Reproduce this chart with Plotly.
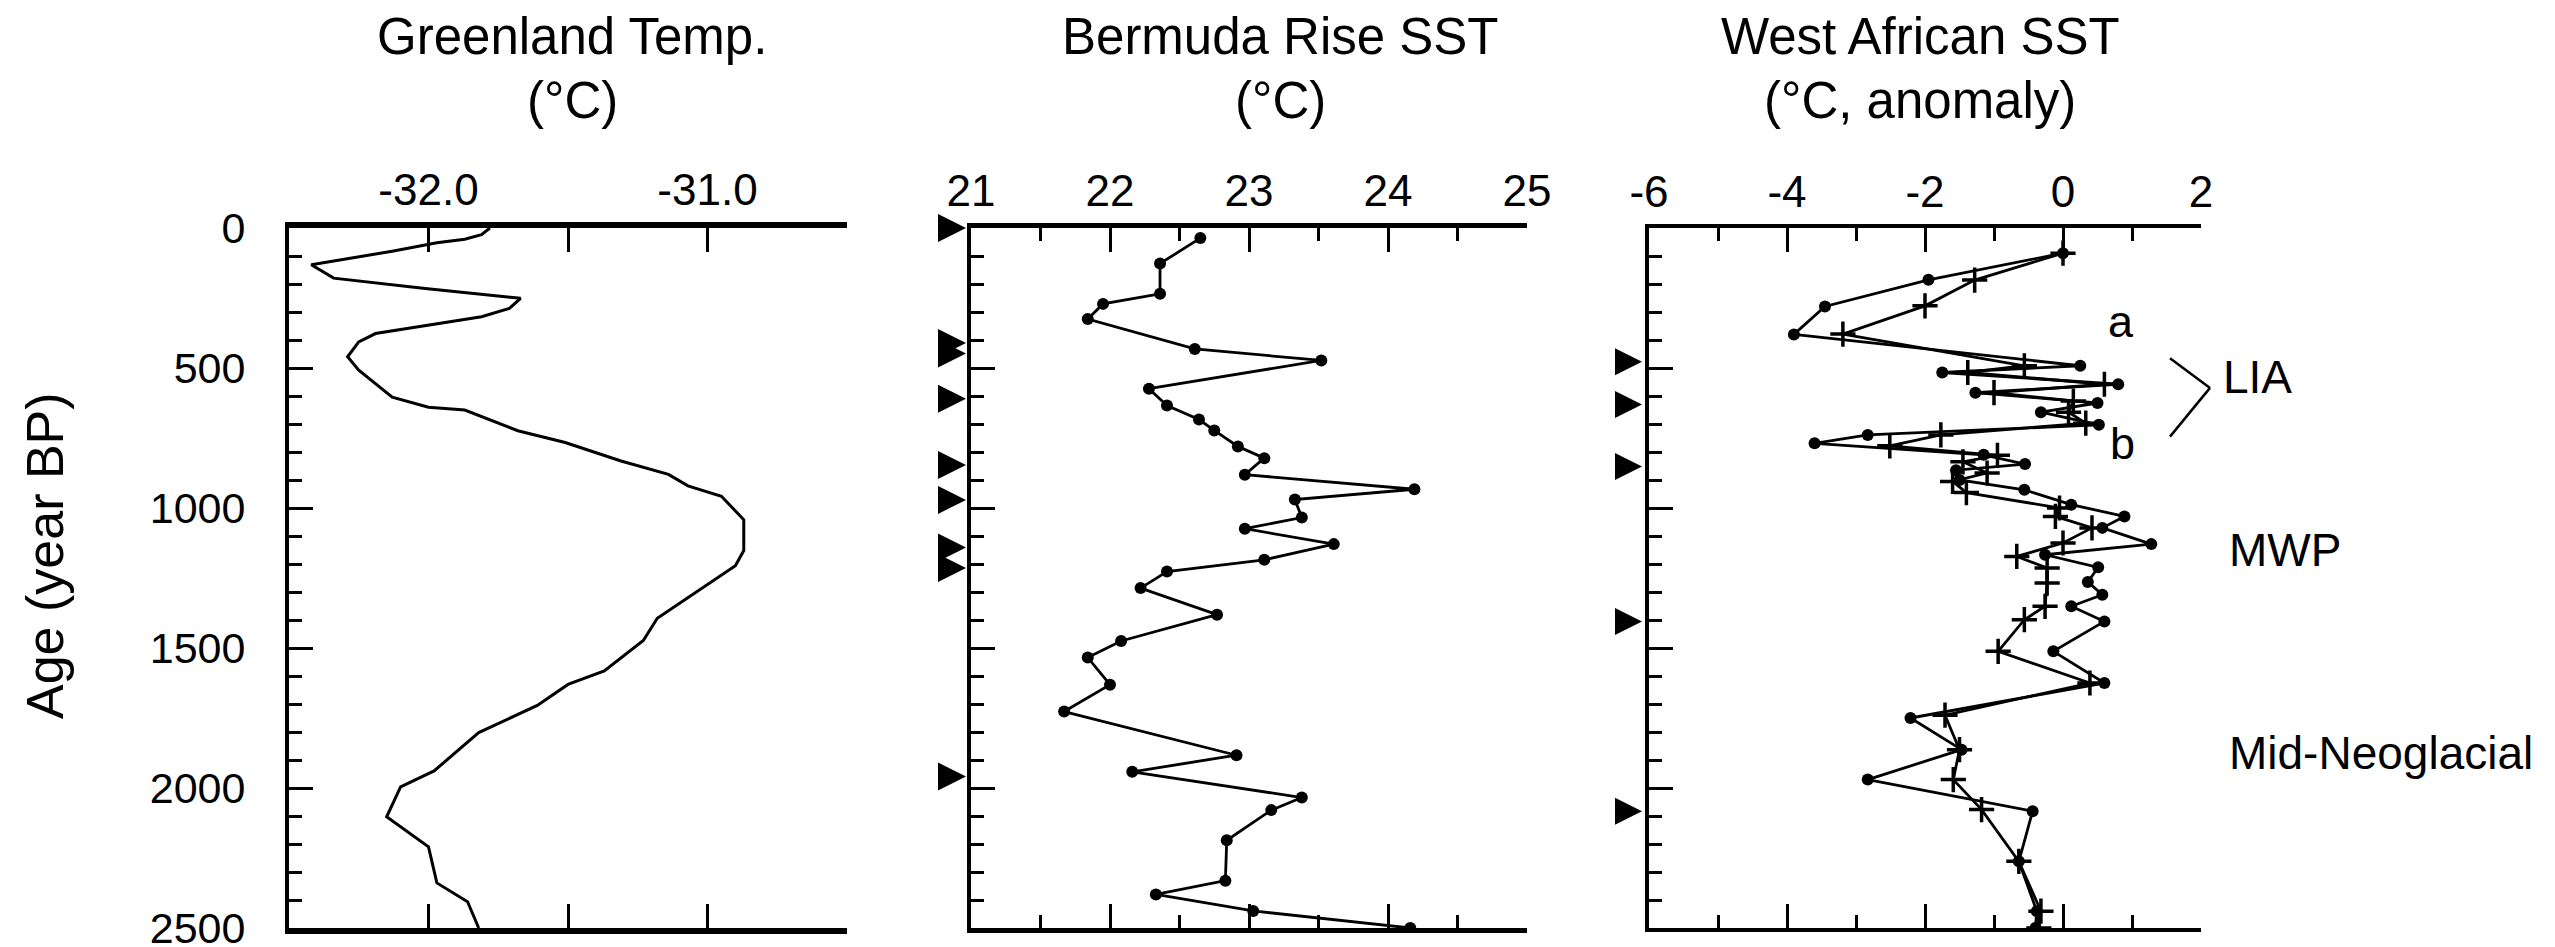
import plotly.graph_objects as go

# ---------------- data ----------------
# Greenland temperature (deg C) vs age (yr BP)
green_age = [0, 24, 40, 53, 83, 131, 179, 215, 251, 287, 317, 377, 407, 460, 508, 604, 640,
             650, 724, 766, 832, 880, 921, 958, 1042, 1152, 1206, 1267, 1315, 1394, 1473,
             1582, 1630, 1705, 1802, 1939, 1996, 2103, 2210, 2339, 2406, 2500]
green_temp = [-31.78, -31.81, -31.87, -31.97, -32.13, -32.42, -32.34, -32.02, -31.67, -31.71,
              -31.81, -32.19, -32.25, -32.29, -32.25, -32.13, -32.00, -31.87, -31.68, -31.51,
              -31.31, -31.14, -31.07, -30.95, -30.87, -30.87, -30.90, -30.99, -31.06, -31.18,
              -31.23, -31.37, -31.50, -31.61, -31.82, -31.98, -32.10, -32.15, -32.00, -31.97,
              -31.86, -31.82]

# Bermuda Rise SST (deg C)
berm_age = [36, 127, 235, 271, 325, 432, 473, 574, 634, 684, 723, 780, 822, 881, 933, 970,
            1034, 1074, 1129, 1185, 1227, 1286, 1381, 1475, 1534, 1631, 1727, 1883, 1942,
            2034, 2079, 2187, 2331, 2380, 2439, 2500]
berm_sst = [22.65, 22.36, 22.36, 21.95, 21.84, 22.61, 23.52, 22.28, 22.41, 22.64, 22.75,
            22.92, 23.11, 22.97, 24.19, 23.33, 23.38, 22.97, 23.61, 23.11, 22.41, 22.22,
            22.77, 22.08, 21.84, 22.00, 21.67, 22.91, 22.16, 23.38, 23.16, 22.84, 22.83,
            22.33, 23.03, 24.16]
berm_dates = [0, 411, 448, 610, 846, 971, 1141, 1214, 1959]

# West African SST anomaly (deg C): series a (dots) and b (crosses)
wa_age_a = [90, 185, 280, 380, 492, 516, 558, 588, 625, 658, 703, 739, 769, 810, 843, 865,
            900, 935, 988, 1030, 1071, 1129, 1167, 1212, 1264, 1310, 1351, 1405, 1512, 1625,
            1750, 1863, 1970, 2083, 2262, 2440, 2500]
wa_sst_a = [0.0, -1.95, -3.45, -3.9, 0.25, -1.75, 0.8, -1.27, 0.5, -0.32, 0.52, -2.83, -3.6,
            -1.15, -0.55, -1.55, -1.5, -0.56, 0.12, 0.89, 0.57, 1.28, -0.26, 0.51, 0.36, 0.57,
            0.12, 0.6, -0.14, 0.6, -2.21, -1.47, -2.83, -0.44, -0.64, -0.38, -0.4]
wa_age_b = [90, 186, 278, 379, 492, 516, 558, 588, 618, 658, 697, 739, 778, 812, 835, 875,
            905, 945, 1000, 1030, 1071, 1125, 1173, 1214, 1268, 1351, 1399, 1512, 1625, 1740,
            1863, 1970, 2077, 2262, 2440, 2500]
wa_sst_b = [0.0, -1.28, -2.0, -3.19, -0.56, -1.38, 0.6, -1.0, 0.15, 0.08, 0.33, -1.77, -2.51,
            -0.95, -1.45, -1.1, -1.6, -1.4, -0.05, -0.11, 0.42, 0.0, -0.67, -0.23, -0.23, -0.26,
            -0.56, -0.94, 0.39, -1.71, -1.5, -1.59, -1.18, -0.64, -0.32, -0.35]
wa_dates = [478, 630, 852, 1405, 2083]

# axis ranges / ticks
green_range = [-32.5, -30.5]
berm_range = [21, 25]
wa_range = [-6, 2]
age_range = [2500, 0]
green_ticks = [-32.5, -32.0, -31.5, -31.0, -30.5]
green_ticktext = ["", "-32.0", "", "-31.0", ""]
berm_ticks = [21, 22, 23, 24, 25]
berm_ticktext = ["21", "22", "23", "24", "25"]
berm_minor = [21.5, 22.5, 23.5, 24.5]
wa_ticks = [-6, -4, -2, 0, 2]
wa_ticktext = ["-6", "-4", "-2", "0", "2"]
wa_minor = [-5, -3, -1, 1]
age_ticks = [0, 500, 1000, 1500, 2000, 2500]
age_minor = list(range(0, 2501, 100))

titles = [("Greenland Temp.", "(°C)"), ("Bermuda Rise SST", "(°C)"),
          ("West African SST", "(°C, anomaly)")]
period_labels = ["LIA", "MWP", "Mid-Neoglacial"]
lia_ages = [465, 745]

# ---------------- layout helpers ----------------
W, H = 2555, 947
FONT = "Liberation Sans, Arial, Helvetica, sans-serif"


def px(x):
    return x / W


def py(y):
    return 1 - y / H


dom1 = [px(281), px(839)]
dom2 = [px(963), px(1519)]
dom3 = [px(1641), px(2193)]
ydom = [py(920), py(220)]

fig = go.Figure()

LW = 2.8
fig.add_trace(go.Scatter(x=green_temp, y=green_age, mode="lines",
                         line=dict(color="black", width=3), xaxis="x", yaxis="y"))
fig.add_trace(go.Scatter(x=berm_sst, y=berm_age, mode="lines+markers",
                         line=dict(color="black", width=LW),
                         marker=dict(symbol="circle", size=12, color="black"),
                         xaxis="x2", yaxis="y2"))
fig.add_trace(go.Scatter(x=[berm_range[0]] * len(berm_dates), y=berm_dates, mode="markers",
                         marker=dict(symbol="arrow-up", angle=90, standoff=5, size=28,
                                     color="black"),
                         cliponaxis=False, xaxis="x2", yaxis="y2"))
fig.add_trace(go.Scatter(x=wa_sst_a, y=wa_age_a, mode="lines+markers",
                         line=dict(color="black", width=LW),
                         marker=dict(symbol="circle", size=12, color="black"),
                         xaxis="x3", yaxis="y3"))
fig.add_trace(go.Scatter(x=wa_sst_b, y=wa_age_b, mode="lines+markers",
                         line=dict(color="black", width=LW),
                         marker=dict(symbol="cross-thin", size=18, color="black",
                                     line=dict(color="black", width=3.5)),
                         xaxis="x3", yaxis="y3"))
fig.add_trace(go.Scatter(x=[wa_range[0]] * len(wa_dates), y=wa_dates, mode="markers",
                         marker=dict(symbol="arrow-up", angle=90, standoff=7, size=27,
                                     color="black"),
                         cliponaxis=False, xaxis="x3", yaxis="y3"))

tickfont = dict(family=FONT, size=44, color="black")


def xtop(domain, rng, tv, tt, minor, lw, anchor):
    return dict(domain=domain, range=rng, side="top", anchor=anchor, showline=True,
                mirror="ticks", linecolor="black", linewidth=lw, ticks="inside",
                ticklen=24, tickwidth=3, tickcolor="black", tickmode="array", tickvals=tv,
                ticktext=tt,
                minor=dict(tickmode="array", tickvals=minor, ticks="inside", ticklen=13,
                           tickwidth=3, tickcolor="black", showgrid=False),
                showgrid=False, zeroline=False, tickfont=tickfont, ticklabelstandoff=0,
                fixedrange=True)


def yax(anchor, labels):
    return dict(domain=ydom, range=age_range, anchor=anchor, side="left", showline=True,
                linecolor="black", linewidth=4, ticks="inside", ticklen=24, tickwidth=3,
                tickcolor="black", tickmode="array", tickvals=age_ticks,
                showticklabels=labels, tickfont=dict(family=FONT, size=43, color="black"),
                ticklabelstandoff=31, ticklabelshift=0, ticklabeloverflow="allow",
                minor=dict(tickmode="array", tickvals=age_minor, ticks="inside", ticklen=13,
                           tickwidth=3, tickcolor="black", showgrid=False),
                showgrid=False, zeroline=False, fixedrange=True)


fig.update_layout(
    width=W, height=H, margin=dict(l=0, r=0, t=0, b=0, pad=0, autoexpand=False),
    paper_bgcolor="white", plot_bgcolor="white", showlegend=False,
    font=dict(family=FONT, color="black"),
    xaxis=xtop(dom1, green_range, green_ticks, green_ticktext, [], 5.5, "y"),
    xaxis2=xtop(dom2, berm_range, berm_ticks, berm_ticktext, berm_minor, 4.5, "y2"),
    xaxis3=xtop(dom3, wa_range, wa_ticks, wa_ticktext, wa_minor, 3.8, "y3"),
    yaxis=yax("x", True),
    yaxis2=yax("x2", False),
    yaxis3=yax("x3", False),
)

ann = []
centers = [564, 1272, 1912]
for (l1, l2), cx in zip(titles, centers):
    ann.append(dict(text=l1, x=px(cx), y=py(28), xref="paper", yref="paper",
                    xanchor="center", yanchor="middle", showarrow=False,
                    font=dict(family=FONT, size=51, color="black")))
    ann.append(dict(text=l2, x=px(cx), y=py(93), xref="paper", yref="paper",
                    xanchor="center", yanchor="middle", showarrow=False,
                    font=dict(family=FONT, size=51, color="black")))
ann.append(dict(text="Age (year BP)", x=px(37), y=py(548), xref="paper", yref="paper",
                xanchor="center", yanchor="middle", textangle=-90, showarrow=False,
                font=dict(family=FONT, size=52, color="black")))
ann.append(dict(text="a", x=px(2113), y=py(313), xref="paper", yref="paper",
                xanchor="center", yanchor="middle", showarrow=False,
                font=dict(family=FONT, size=45, color="black")))
ann.append(dict(text="b", x=px(2114), y=py(436), xref="paper", yref="paper",
                xanchor="center", yanchor="middle", showarrow=False,
                font=dict(family=FONT, size=45, color="black")))
for txt, yy in zip(period_labels, [369, 542, 745]):
    ann.append(dict(text=txt, x=px(2213 if txt == "LIA" else 2219), y=py(yy), xref="paper",
                    yref="paper", xanchor="left", yanchor="middle", showarrow=False,
                    font=dict(family=FONT, size=46, color="black")))
fig.update_layout(annotations=ann)

# LIA bracket
lia_mid = (lia_ages[0] + lia_ages[1]) / 2 - 34
fig.add_shape(type="line", xref="paper", yref="y3", x0=px(2162), x1=px(2202),
              y0=lia_ages[0], y1=lia_mid, line=dict(color="black", width=2.5))
fig.add_shape(type="line", xref="paper", yref="y3", x0=px(2202), x1=px(2162),
              y0=lia_mid, y1=lia_ages[1], line=dict(color="black", width=2.5))

fig.write_html("out.html")
